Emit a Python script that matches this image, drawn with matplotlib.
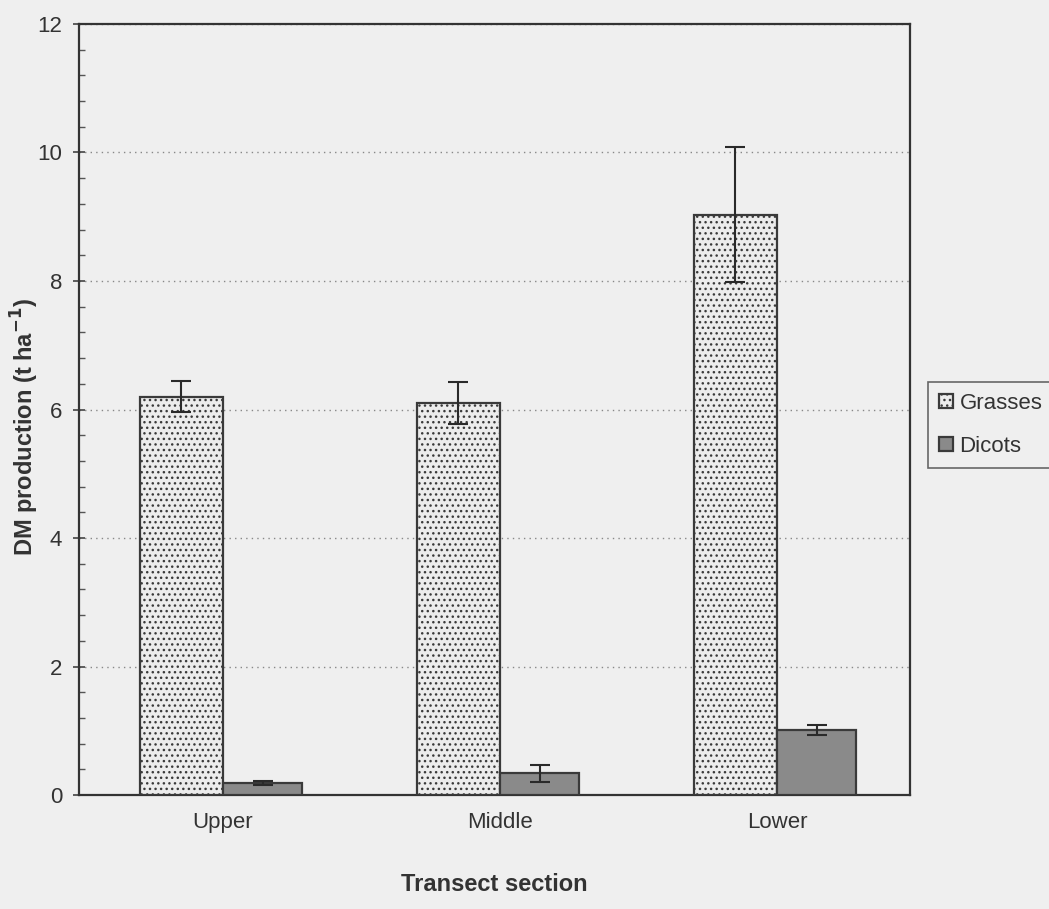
import matplotlib
matplotlib.use('Agg')
import matplotlib.pyplot as plt
import numpy as np
from matplotlib.ticker import MultipleLocator

plt.rcParams['font.family'] = ['Liberation Sans', 'DejaVu Sans']
plt.rcParams['hatch.color'] = '#9a9a9a'
plt.rcParams['hatch.linewidth'] = 1.0

sections = ['Upper', 'Middle', 'Lower']
grasses = [6.20, 6.10, 9.03]
grasses_err = [0.24, 0.33, 1.05]
dicots = [0.19, 0.34, 1.01]
dicots_err = [0.03, 0.13, 0.08]

bg = '#efefef'
fig = plt.figure(figsize=(10.49, 9.09), dpi=100, facecolor=bg)
ax = fig.add_axes([0.0753, 0.1254, 0.7922, 0.8482], facecolor=bg)

x = np.arange(len(sections)) + 0.52
wg = 0.3
wd = 0.285
xg = x - wg / 2
xd = x + wd / 2
ax.bar(xg, grasses, wg, color='#ececec', edgecolor='#3a3a3a', linewidth=1.6,
       hatch='...', label='Grasses', zorder=3)
ax.bar(xd, dicots, wd, color='#8a8a8a', edgecolor='#3a3a3a', linewidth=1.6,
       label='Dicots', zorder=3)
ax.errorbar(xg, grasses, yerr=grasses_err, fmt='none', ecolor='#2a2a2a',
            elinewidth=1.5, capsize=7, capthick=1.5, zorder=4)
ax.errorbar(xd, dicots, yerr=dicots_err, fmt='none', ecolor='#2a2a2a',
            elinewidth=1.5, capsize=7, capthick=1.5, zorder=4)

ax.set_xlim(0, 3)
ax.set_ylim(0, 12)
ax.yaxis.set_major_locator(MultipleLocator(2))
ax.yaxis.set_minor_locator(MultipleLocator(0.4))
ax.grid(axis='y', which='major', linestyle=(0, (1, 3)), color='#888888', linewidth=1.0, zorder=0)
ax.set_xticks(x)
ax.set_xticklabels(sections, fontsize=16, color='#333333')
ax.tick_params(axis='x', length=0, pad=12)
ax.tick_params(axis='y', which='major', direction='inout', length=8, width=1.2, pad=8,
               labelsize=16, labelcolor='#333333', color='#444444')
ax.tick_params(axis='y', which='minor', direction='in', length=4, width=1.0, color='#555555')
for s in ax.spines.values():
    s.set_linewidth(1.6)
    s.set_color('#333333')

ax.set_xlabel('Transect section', fontsize=17, fontweight='bold', color='#333333', labelpad=29)
ax.set_ylabel('DM production (t ha$^{\\mathbf{-1}}$)', fontsize=17, fontweight='bold',
              color='#333333')
ax.yaxis.set_label_coords(-0.046, 0.477)

leg = ax.legend(loc='center left', bbox_to_anchor=(1.022, 0.48), fontsize=16,
                frameon=True, fancybox=False, edgecolor='#444444', facecolor=bg,
                handlelength=0.6, handleheight=0.6, handletextpad=0.3, borderpad=0.5,
                borderaxespad=0.0, labelspacing=1.0)
leg.get_frame().set_linewidth(1.2)
for t in leg.get_texts():
    t.set_color('#333333')

plt.savefig('out.png', dpi=100, facecolor=bg)
plt.close()
